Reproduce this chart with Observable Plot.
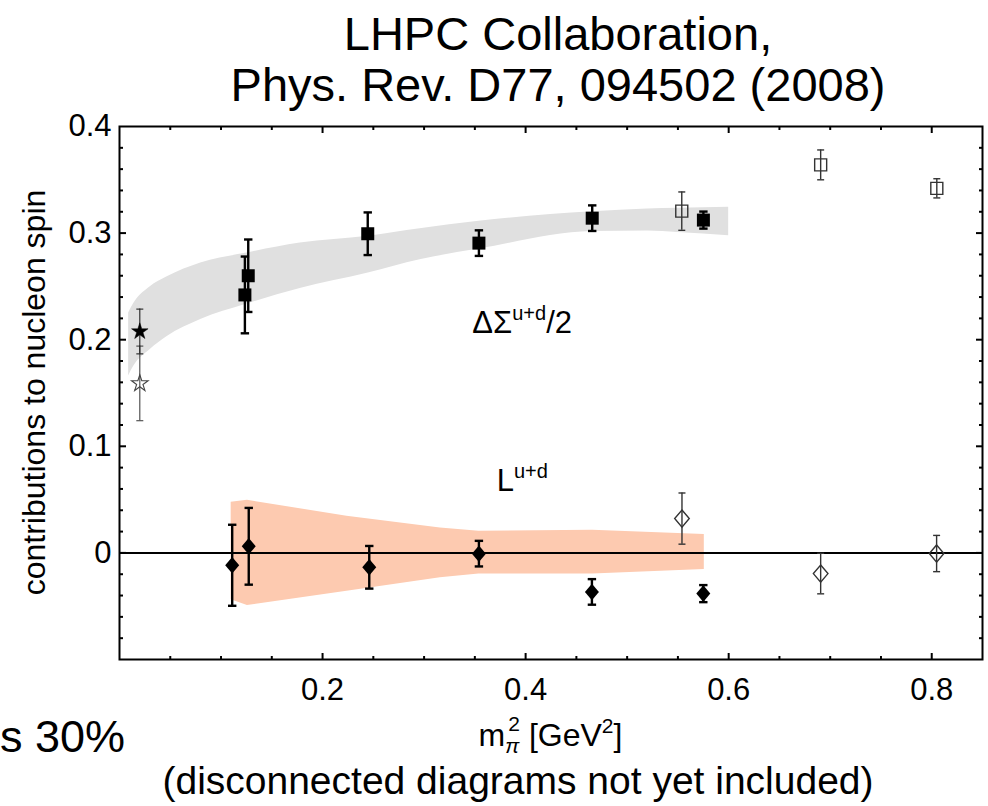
<!DOCTYPE html>
<html>
<head>
<meta charset="utf-8">
<script src="https://cdn.jsdelivr.net/npm/d3@7"></script>
<script src="https://cdn.jsdelivr.net/npm/@observablehq/plot@0.6"></script>
<style>
  html, body { margin: 0; padding: 0; background: #fff; }
  body { font-family: "Liberation Sans", Arial, Helvetica, sans-serif; color: #000; }
  #wrap { position: relative; width: 988px; height: 806px; overflow: hidden; }
  #title { position: absolute; left: 128px; width: 860px; top: 8px; text-align: center; font-size: 47px; line-height: 51px; z-index: 2; }
  #chart { position: absolute; left: 0; top: 110px; z-index: 1; }
  #frag { position: absolute; left: 0px; top: 714px; font-size: 45px; line-height: 46px; white-space: nowrap; }
  #caption { position: absolute; left: 0; width: 1036px; top: 760px; text-align: center; font-size: 39px; line-height: 42px; white-space: nowrap; }
</style>
</head>
<body>
<div id="wrap">
  <div id="title">LHPC Collaboration,<br>Phys. Rev. D77, 094502 (2008)</div>
  <div id="chart"></div>
  <div id="frag">s 30%</div>
  <div id="caption">(disconnected diagrams not yet included)</div>
</div>
<script>
// ---------------- data ----------------
// ΔΣ^{u+d}/2 : filled squares
const sqFilledX   = [0.1235, 0.1268, 0.2445, 0.354, 0.4656, 0.5751];
const sqFilledY   = [0.242, 0.260, 0.2994, 0.2906, 0.314, 0.3122];
const sqFilledErr = [0.036, 0.034, 0.020, 0.012, 0.012, 0.008];
// ΔΣ^{u+d}/2 : open squares
const sqOpenX   = [0.5538, 0.6906, 0.805];
const sqOpenY   = [0.3206, 0.364, 0.342];
const sqOpenErr = [0.018, 0.014, 0.009];
// L^{u+d} : filled diamonds
const diaFilledX   = [0.111, 0.1273, 0.246, 0.354, 0.4653, 0.575];
const diaFilledY   = [-0.0116, 0.0062, -0.0135, -0.0007, -0.0366, -0.0382];
const diaFilledErr = [0.038, 0.036, 0.020, 0.012, 0.012, 0.008];
// L^{u+d} : open diamonds
const diaOpenX   = [0.554, 0.6906, 0.8048];
const diaOpenY   = [0.0322, -0.0194, -0.0006];
const diaOpenErr = [0.024, 0.019, 0.017];
// physical-point extrapolations (stars)
const starFilledX = [0.02], starFilledY = [0.2077], starFilledErr = [0.021];
const starOpenX   = [0.02], starOpenY   = [0.159],  starOpenErr   = [0.035];
// chiral fit bands
const grayBandX  = [0.009, 0.014, 0.03, 0.047, 0.08, 0.124, 0.178, 0.245, 0.296, 0.354, 0.466, 0.52, 0.55, 0.60];
const grayBandLo = [0.166, 0.175, 0.1906, 0.203, 0.219, 0.233, 0.248, 0.2625, 0.275, 0.285, 0.3015, 0.302, 0.3005, 0.2975];
const grayBandHi = [0.225, 0.234, 0.2495, 0.259, 0.272, 0.281, 0.2906, 0.297, 0.304, 0.311, 0.320, 0.3225, 0.3232, 0.3243];
const salmonBandX  = [0.11, 0.126, 0.224, 0.316, 0.354, 0.466, 0.576];
const salmonBandLo = [-0.044, -0.0494, -0.036, -0.0234, -0.0197, -0.0197, -0.0156];
const salmonBandHi = [0.0475, 0.0493, 0.0344, 0.0234, 0.0203, 0.0212, 0.0172];
// axes
const xDomain = [0, 0.85];
const yDomain = [-0.1, 0.4];
const xMajorTicks = [0.2, 0.4, 0.6, 0.8];
const xMinorTicks = [0.05, 0.1, 0.15, 0.25, 0.3, 0.35, 0.45, 0.5, 0.55, 0.65, 0.7, 0.75];
const yMajorTicks = [0, 0.1, 0.2, 0.3, 0.4];
const yInnerMajor = [0, 0.1, 0.2, 0.3];
const yMinorTicks = [-0.08, -0.06, -0.04, -0.02, 0.02, 0.04, 0.06, 0.08, 0.12, 0.14, 0.16, 0.18, 0.22, 0.24, 0.26, 0.28, 0.32, 0.34, 0.36, 0.38];
const yTickLabels = ["0", "0.1", "0.2", "0.3", "0.4"];
const xTickLabels = ["0.2", "0.4", "0.6", "0.8"];

// ---------------- helpers ----------------
const rows = (xs, ys, es) => xs.map((x, i) => ({x, y: ys[i], lo: ys[i] - es[i], hi: ys[i] + es[i]}));
const band = (xs, lo, hi) => xs.map((x, i) => ({x, lo: lo[i], hi: hi[i]}));

const sqF = rows(sqFilledX, sqFilledY, sqFilledErr);
const sqO = rows(sqOpenX, sqOpenY, sqOpenErr);
const dF = rows(diaFilledX, diaFilledY, diaFilledErr);
const dO = rows(diaOpenX, diaOpenY, diaOpenErr);
const stF = rows(starFilledX, starFilledY, starFilledErr);
const stO = rows(starOpenX, starOpenY, starOpenErr);

const rad = (size) => Math.sqrt(size / Math.PI);
const squareSym = {draw(c, s) { const r = rad(s); c.moveTo(-r, -r); c.lineTo(r, -r); c.lineTo(r, r); c.lineTo(-r, r); c.closePath(); }};
const diamondSym = {draw(c, s) { const r = rad(s); c.moveTo(0, -1.18 * r); c.lineTo(r, 0); c.lineTo(0, 1.18 * r); c.lineTo(-r, 0); c.closePath(); }};
const capSym = {draw(c, s) { const r = rad(s); c.moveTo(-r, 0); c.lineTo(r, 0); }};
const tickSym = (dx, dy) => ({draw(c, s) { const r = rad(s); c.moveTo(0, 0); c.lineTo(dx * r, dy * r); }});

function errorMarks(data, {stroke, width, cap}) {
  return [
    Plot.ruleX(data, {x: "x", y1: "lo", y2: "hi", stroke, strokeWidth: width}),
    Plot.dot(data, {x: "x", y: "lo", symbol: capSym, r: cap, stroke, strokeWidth: width, fill: "none"}),
    Plot.dot(data, {x: "x", y: "hi", symbol: capSym, r: cap, stroke, strokeWidth: width, fill: "none"})
  ];
}
function frameTicks(values, anchor, dx, dy, len, axis) {
  return Plot.dot(values, {[axis]: d => d, frameAnchor: anchor, symbol: tickSym(dx, dy), r: len, stroke: "black", strokeWidth: 2, fill: "none"});
}

const FONT = "'Liberation Sans', Arial, Helvetica, sans-serif";

const plot = Plot.plot({
  width: 988,
  height: 640,
  marginTop: 16,
  marginLeft: 119,
  marginRight: 6,
  marginBottom: 91,
  x: {domain: xDomain},
  y: {domain: yDomain},
  style: {fontFamily: FONT, fontSize: "31px", color: "black", background: "transparent", overflow: "visible"},
  marks: [
    Plot.areaY(band(grayBandX, grayBandLo, grayBandHi), {x: "x", y1: "lo", y2: "hi", fill: "#e0e0e0", curve: "monotone-x"}),
    Plot.areaY(band(salmonBandX, salmonBandLo, salmonBandHi), {x: "x", y1: "lo", y2: "hi", fill: "#fdcab0", curve: "linear"}),
    Plot.ruleY([0], {stroke: "black", strokeWidth: 2}),

    ...errorMarks(stO, {stroke: "#444", width: 1.1, cap: 3.5}),
    ...errorMarks(stF, {stroke: "#222", width: 1.1, cap: 3.5}),
    ...errorMarks(sqO, {stroke: "#333", width: 1.4, cap: 3.5}),
    ...errorMarks(dO, {stroke: "#333", width: 1.4, cap: 3.5}),
    ...errorMarks(sqF, {stroke: "black", width: 2.4, cap: 4.2}),
    ...errorMarks(dF, {stroke: "black", width: 2.4, cap: 4.2}),

    Plot.dot(sqF, {x: "x", y: "y", symbol: squareSym, r: 6.5, fill: "black", stroke: "none"}),
    Plot.dot(dF, {x: "x", y: "y", symbol: diamondSym, r: 7, fill: "black", stroke: "none"}),
    Plot.dot(sqO, {x: "x", y: "y", symbol: squareSym, r: 6, fill: "none", stroke: "#333", strokeWidth: 1.4}),
    Plot.dot(dO, {x: "x", y: "y", symbol: diamondSym, r: 7.3, fill: "none", stroke: "#333", strokeWidth: 1.4}),
    Plot.dot(stF, {x: "x", y: "y", symbol: "star", r: 5.2, fill: "black", stroke: "black", strokeWidth: 0.5}),
    Plot.dot(stO, {x: "x", y: "y", symbol: "star", r: 5.2, fill: "none", stroke: "#444", strokeWidth: 1.1}),

    Plot.frame({stroke: "black", strokeWidth: 2}),
    frameTicks(xMajorTicks, "bottom", 0, -1, 6.5, "x"),
    frameTicks(xMinorTicks, "bottom", 0, -1, 3.5, "x"),
    frameTicks(xMajorTicks, "top", 0, 1, 6.5, "x"),
    frameTicks(xMinorTicks, "top", 0, 1, 3.5, "x"),
    frameTicks(yInnerMajor, "left", 1, 0, 6.5, "y"),
    frameTicks(yMinorTicks, "left", 1, 0, 3.5, "y"),
    frameTicks(yInnerMajor, "right", -1, 0, 6.5, "y"),
    frameTicks(yMinorTicks, "right", -1, 0, 3.5, "y"),

    Plot.axisX({ticks: xMajorTicks, tickSize: 0, tickPadding: 18, tickFormat: (d, i) => xTickLabels[i], label: null}),
    Plot.axisY({ticks: yMajorTicks, tickSize: 0, tickPadding: 8, tickFormat: (d, i) => yTickLabels[i], label: null})
  ]
});

document.getElementById("chart").appendChild(plot);

// ---------- rich-text labels placed through the plot's scales ----------
const svg = d3.select(plot);
const sx = plot.scale("x"), sy = plot.scale("y");

function richText(x, y, anchor, parts, size) {
  const t = svg.append("text")
    .attr("x", x).attr("y", y)
    .attr("text-anchor", anchor)
    .attr("font-family", FONT)
    .attr("font-size", size)
    .attr("fill", "black");
  for (const p of parts) {
    const ts = t.append("tspan").text(p.t);
    if (p.size) ts.attr("font-size", p.size);
    if (p.dy) ts.attr("dy", p.dy);
    if (p.dx) ts.attr("dx", p.dx);
    if (p.italic) ts.attr("font-style", "italic");
  }
  return t;
}

// ΔΣ^{u+d}/2
richText(sx.apply(0.348), sy.apply(0.2056), "start", [
  {t: "ΔΣ"}, {t: "u+d", size: 20, dy: -13}, {t: "/2", size: 31, dy: 13}
], 31);
// L^{u+d}
richText(sx.apply(0.372), sy.apply(0.0575), "start", [
  {t: "L"}, {t: "u+d", size: 20, dy: -13}
], 31);
// x-axis title m_π^2 [GeV^2]
richText((sx.apply(xDomain[0]) + sx.apply(xDomain[1])) / 2, 636, "middle", [
  {t: "m"}, {t: "π", size: 21, dy: 7, italic: true}, {t: "2", size: 21, dx: -11, dy: -22},
  {t: " [GeV", size: 32, dy: 15}, {t: "2", size: 21, dy: -13}, {t: "]", size: 32, dy: 13}
], 32);
// y-axis title
const yMid = (sy.apply(yDomain[0]) + sy.apply(yDomain[1])) / 2;
svg.append("text")
  .attr("transform", `translate(34,${yMid}) rotate(-90)`)
  .attr("text-anchor", "middle")
  .attr("dominant-baseline", "central")
  .attr("font-family", FONT)
  .attr("font-size", 32)
  .attr("fill", "black")
  .text("contributions to nucleon spin");
</script>
</body>
</html>
